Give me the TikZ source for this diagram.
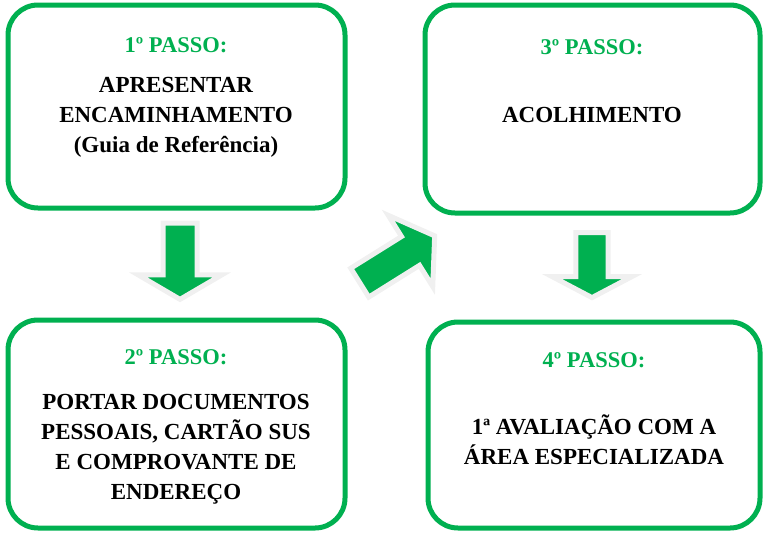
\documentclass[tikz,border=0pt]{standalone}
\usepackage{fontspec}
\setmainfont{Liberation Serif}
\definecolor{gr}{RGB}{0,176,80}
\tikzset{
 box/.style={draw=gr,line width=5pt,rounded corners=30pt,fill=white},
 ttl/.style={text=gr,font=\bfseries\fontsize{22.5}{26}\selectfont},
 txt/.style={align=center,font=\bfseries\fontsize{23}{30}\selectfont},
 barrow/.style={fill=gr,draw=gray!12,line width=5pt,line join=miter}
}
\newcommand{\blockarrow}{(-45,-17) -- (18,-17) -- (18,-42) -- (48,0) -- (18,42) -- (18,17) -- (-45,17) -- cycle}
\begin{document}
\begin{tikzpicture}[x=1pt,y=-1pt]
\useasboundingbox (0,0) rectangle (768,536);
\draw[box] (8,5) rectangle (345,208);
\draw[box] (8,320) rectangle (345,528);
\draw[box] (425,5) rectangle (760,213);
\draw[box] (428,322) rectangle (760,528);
\node[ttl] (t1) at (176,45) {1º PASSO:};
\node[txt] (b1) at (176,117) {APRESENTAR\\ENCAMINHAMENTO\\(Guia de Referência)};
\node[ttl] (t2) at (176,357) {2º PASSO:};
\node[txt] (b2) at (176,449) {PORTAR DOCUMENTOS\\PESSOAIS, CARTÃO SUS\\E COMPROVANTE DE\\ENDEREÇO};
\node[ttl] (t3) at (592,47) {3º PASSO:};
\node[txt] (b3) at (592,115) {ACOLHIMENTO};
\node[ttl] (t4) at (594,360) {4º PASSO:};
\node[txt] (b4) at (594,440) {1ª AVALIAÇÃO COM A\\ÁREA ESPECIALIZADA};
\begin{scope}[shift={(180,260)},rotate=-90,xscale=0.82]
\draw[barrow] \blockarrow;
\end{scope}
\begin{scope}[shift={(592,264)},rotate=-90,xscale=0.7,yscale=0.95]
\draw[barrow] \blockarrow;
\end{scope}
\begin{scope}[shift={(396,260)},rotate=32,xscale=0.95,yscale=1.0]
\draw[barrow] \blockarrow;
\end{scope}
\end{tikzpicture}
\end{document}
